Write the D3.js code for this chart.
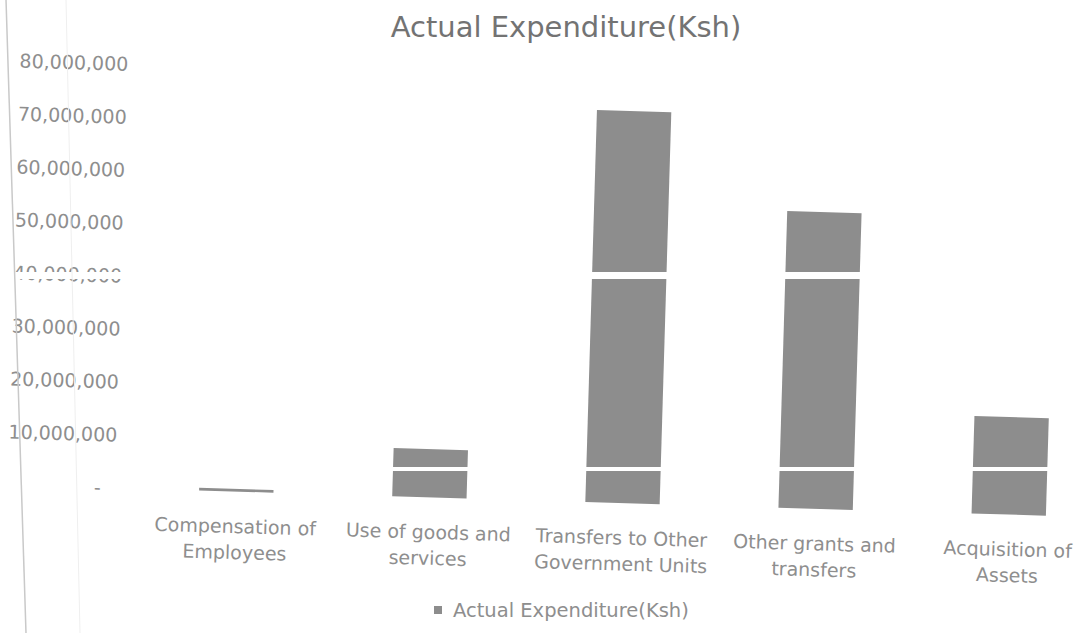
<!DOCTYPE html>
<html>
<head>
<meta charset="utf-8">
<script src="https://cdn.jsdelivr.net/npm/d3@7"></script>
<style>
  html, body { margin: 0; padding: 0; background: #fff; }
  svg { display: block; }
  text { font-family: "DejaVu Sans", sans-serif; }
</style>
</head>
<body>
<div id="chart"></div>
<script>
// =============================
// DATA
// =============================
const categories = [
  "Compensation of Employees",
  "Use of goods and services",
  "Transfers to Other Government Units",
  "Other grants and transfers",
  "Acquisition of Assets"
];
const categoryLines = [
  ["Compensation of", "Employees"],
  ["Use of goods and", "services"],
  ["Transfers to Other", "Government Units"],
  ["Other grants and", "transfers"],
  ["Acquisition of", "Assets"]
];
const actualExpenditure = [500000, 9100000, 74000000, 56000000, 18400000];
const yTicks = [0, 10000000, 20000000, 30000000, 40000000, 50000000, 60000000, 70000000, 80000000];
const chartTitle = "Actual Expenditure(Ksh)";
const seriesName = "Actual Expenditure(Ksh)";

// =============================
// SETUP
// =============================
const width = 1078;
const height = 633;
const barColor = "#8d8d8d";
const textColor = "#8e8e8e";

const svg = d3.select("#chart")
  .append("svg")
  .attr("width", width)
  .attr("height", height);

// the scanned page is a little tilted, so the plot is drawn rotated
const plot = svg.append("g")
  .attr("transform", "rotate(1.7, 539, 316)");

const x = d3.scaleBand()
  .domain(categories)
  .range([145, 1111])
  .padding(0);

const y = d3.scaleLinear()
  .domain([0, 80000000])
  .range([500.5, 76.5]);

const barW = x.bandwidth() * 0.385;

// Y AXIS (labels only)
const yAxis = plot.append("g")
  .attr("transform", "translate(121,0)")
  .call(d3.axisLeft(y)
    .tickValues(yTicks)
    .tickSize(0)
    .tickPadding(0)
    .tickFormat(d => d === 0 ? "-" : d3.format(",")(d)));

yAxis.select(".domain").remove();
yAxis.selectAll("text")
  .attr("font-family", "DejaVu Sans, sans-serif")
  .attr("font-size", "19px")
  .attr("fill", textColor)
  .attr("dx", d => d === 0 ? -15 : 0);

// BARS
plot.selectAll("rect.bar")
  .data(actualExpenditure)
  .enter()
  .append("rect")
  .attr("class", "bar")
  .attr("x", (d, i) => x(categories[i]) + (x.bandwidth() - barW) / 2)
  .attr("y", d => y(d))
  .attr("width", barW)
  .attr("height", d => y(0) - y(d))
  .attr("fill", barColor);

// CATEGORY LABELS
const catLabels = plot.selectAll("text.cat")
  .data(categoryLines)
  .enter()
  .append("text")
  .attr("class", "cat")
  .attr("text-anchor", "middle")
  .attr("font-size", "19px")
  .attr("fill", textColor);

catLabels.selectAll("tspan")
  .data((d, i) => d.map(line => ({ line, i })))
  .enter()
  .append("tspan")
  .attr("x", d => x(categories[d.i]) + x.bandwidth() / 2)
  .attr("y", (d, j) => 542 + j * 26)
  .text(d => d.line);

// =============================
// SCAN ARTEFACTS (white bands, page edge)
// =============================
svg.append("rect")
  .attr("x", 0).attr("y", 272)
  .attr("width", width).attr("height", 7)
  .attr("fill", "#fff");
svg.append("rect")
  .attr("x", 0).attr("y", 467)
  .attr("width", width).attr("height", 4)
  .attr("fill", "#fff");

svg.append("line")
  .attr("x1", 6).attr("y1", 0)
  .attr("x2", 26).attr("y2", height)
  .attr("stroke", "#c9c9c9")
  .attr("stroke-width", 1.5);
svg.append("line")
  .attr("x1", 66).attr("y1", 0)
  .attr("x2", 80).attr("y2", height)
  .attr("stroke", "#efefef")
  .attr("stroke-width", 1);

// =============================
// TITLE + LEGEND
// =============================
svg.append("text")
  .attr("x", 566)
  .attr("y", 37)
  .attr("text-anchor", "middle")
  .attr("font-size", "29px")
  .attr("fill", "#737373")
  .text(chartTitle);

const legend = svg.append("g")
  .attr("transform", "translate(434,606)");
legend.append("rect")
  .attr("width", 8)
  .attr("height", 8)
  .attr("fill", barColor);
legend.append("text")
  .attr("x", 19)
  .attr("y", 11)
  .attr("font-size", "19.5px")
  .attr("fill", textColor)
  .text(seriesName);
</script>
</body>
</html>
